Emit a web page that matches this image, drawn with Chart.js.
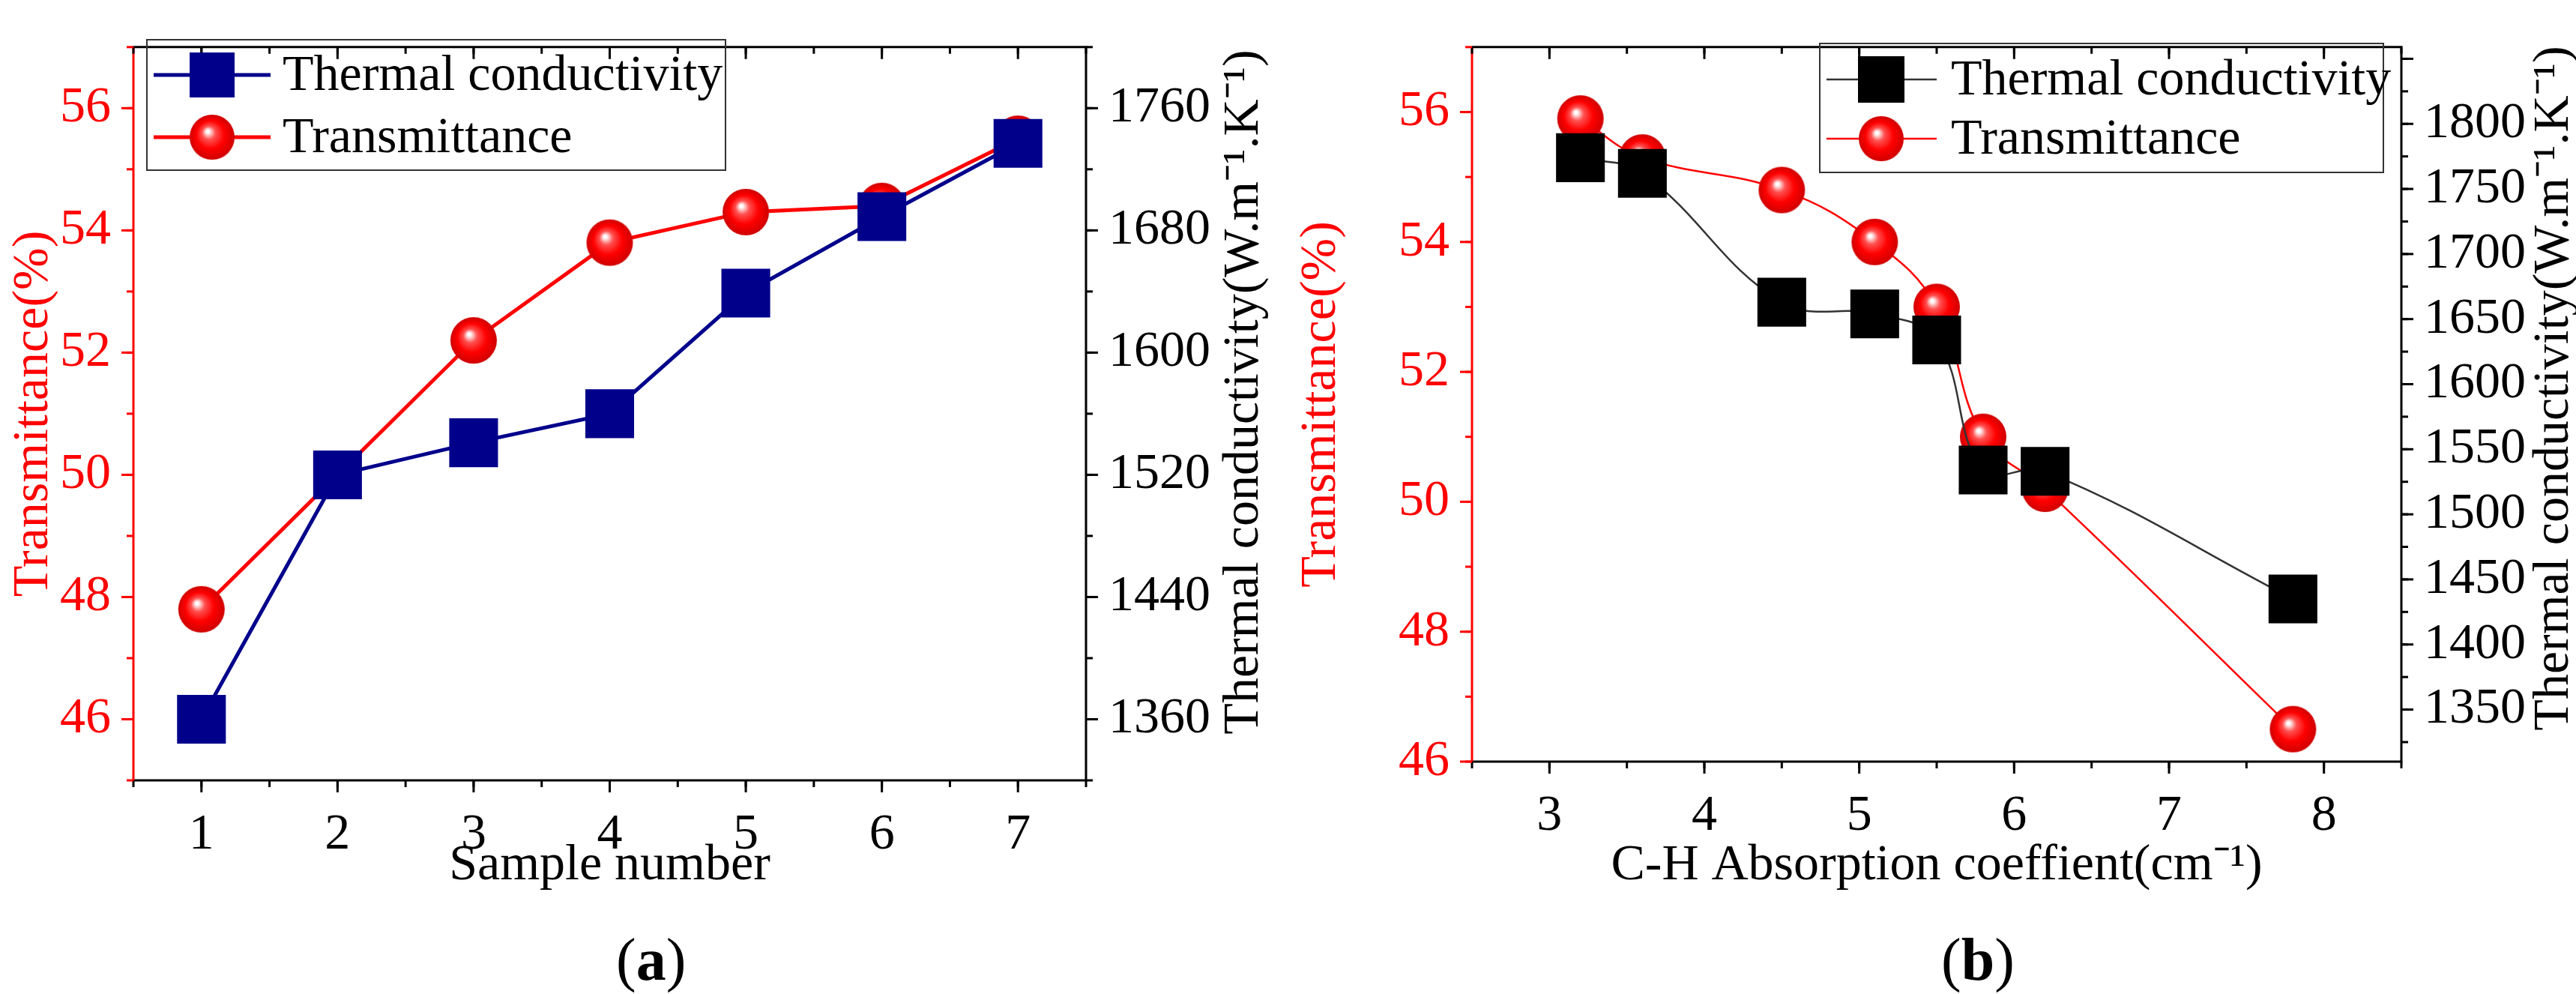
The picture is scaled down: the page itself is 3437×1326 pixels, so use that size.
<!DOCTYPE html>
<html><head><meta charset="utf-8">
<script src="https://cdn.jsdelivr.net/npm/chart.js@4.4.0/dist/chart.umd.min.js"></script>
<style>
body{margin:0;background:#fff;width:3437px;height:1326px;position:relative;overflow:hidden;font-family:"Liberation Serif",serif}
.w{position:absolute;top:0;height:1200px}
.lab{position:absolute;top:1235px;font-size:80px;font-family:"Liberation Serif",serif}
</style></head><body>
<div class="w" style="left:0;width:1720px"><canvas id="ca"></canvas></div>
<div class="w" style="left:1718px;width:1719px"><canvas id="cb"></canvas></div>
<div class="lab" style="left:822px">(<b>a</b>)</div>
<div class="lab" style="left:2590px">(<b>b</b>)</div>
<script>
// Panel (a)
const sampleNumbers = [1, 2, 3, 4, 5, 6, 7];
const transmittanceA = [47.8, 50.0, 52.2, 53.8, 54.3, 54.4, 55.5];
const conductivityA = [1360, 1520, 1541, 1560, 1639, 1689, 1737];
const xTicksA = [1, 2, 3, 4, 5, 6, 7];
const leftTicksA = [46, 48, 50, 52, 54, 56];
const rightTicksA = [1360, 1440, 1520, 1600, 1680, 1760];
// Panel (b)
const chAbsorption = [3.2, 3.6, 4.5, 5.1, 5.5, 5.8, 6.2, 7.8];
const transmittanceB = [55.9, 55.3, 54.8, 54.0, 53.0, 51.0, 50.2, 46.5];
const conductivityB = [1774, 1762, 1663, 1654, 1634, 1534, 1533, 1435];
const xTicksB = [3, 4, 5, 6, 7, 8];
const leftTicksB = [46, 48, 50, 52, 54, 56];
const rightTicksB = [1350, 1400, 1450, 1500, 1550, 1600, 1650, 1700, 1750, 1800];
const seriesNames = ['Thermal conductivity', 'Transmittance'];

Chart.defaults.font.family = '"Liberation Serif", serif';
Chart.defaults.animation = false;
const F = 68;

function pts(xs, ys){ return xs.map((x,i)=>({x:x,y:ys[i]})); }

function ballStyle(){
  const c = document.createElement('canvas'); c.width=64;c.height=64;
  const g=c.getContext('2d');
  const gr=g.createRadialGradient(26,24,2,32,32,31);
  gr.addColorStop(0,'#ffffff');gr.addColorStop(0.25,'#ff5050');gr.addColorStop(0.6,'#ff0000');gr.addColorStop(1,'#d00000');
  g.fillStyle=gr;g.beginPath();g.arc(32,32,31,0,Math.PI*2);g.fill();
  return c;
}
const ball = ballStyle();

const framePlugin = {
  id:'frame',
  afterDraw(chart, args, o){
    const {ctx, chartArea:a, scales} = chart;
    ctx.save();
    ctx.lineWidth = 3;
    ctx.strokeStyle = '#000';
    ctx.beginPath(); ctx.moveTo(a.left,a.top); ctx.lineTo(a.right,a.top); ctx.lineTo(a.right,a.bottom); ctx.lineTo(a.left,a.bottom); ctx.stroke();
    ctx.strokeStyle = 'red';
    ctx.beginPath(); ctx.moveTo(a.left,a.top); ctx.lineTo(a.left,a.bottom); ctx.stroke();
    const tk = (sc, step, len, col, side) => {
      ctx.strokeStyle = col;
      for (let v = Math.ceil(sc.min/step-1e-9)*step; v <= sc.max+1e-9; v += step) {
        const p = sc.getPixelForValue(v);
        ctx.beginPath();
        if (side==='b'){ ctx.moveTo(p,a.bottom); ctx.lineTo(p,a.bottom+len); ctx.moveTo(p,a.top); ctx.lineTo(p,a.top+len); }
        if (side==='l'){ ctx.moveTo(a.left,p); ctx.lineTo(a.left-len,p); }
        if (side==='r'){ ctx.moveTo(a.right,p); ctx.lineTo(a.right+len,p); }
        ctx.stroke();
      }
    };
    tk(scales.x, o.xs, 16, '#000', 'b');
    tk(scales.x, o.xs/2, 9, '#000', 'b');
    tk(scales.y, 2, 16, 'red', 'l');
    tk(scales.y, 1, 9, 'red', 'l');
    tk(scales.y1, o.rs, 16, '#000', 'r');
    tk(scales.y1, o.rs/2, 9, '#000', 'r');
    // right title, reading bottom-to-top
    ctx.save();
    ctx.translate(o.rtx, o.rty); ctx.rotate(-Math.PI/2);
    ctx.font = F+'px "Liberation Serif"'; ctx.fillStyle='#000'; ctx.textAlign='center'; ctx.textBaseline='middle';
    ctx.fillText('Thermal conductivity(W.m⁻¹.K⁻¹)', 0, 0);
    ctx.restore();
    // legend
    const L = o.leg;
    ctx.strokeStyle = '#333'; ctx.lineWidth = 2;
    ctx.strokeRect(L.x0, L.y0, L.x1-L.x0, L.y1-L.y0);
    ctx.font = F+'px "Liberation Serif"'; ctx.textBaseline='middle'; ctx.textAlign='left';
    L.rows.forEach((r,i)=>{
      ctx.strokeStyle = r.lc; ctx.lineWidth = r.lw;
      ctx.beginPath(); ctx.moveTo(L.lx0, r.y); ctx.lineTo(L.lx1, r.y); ctx.stroke();
      if (r.sq) { ctx.fillStyle = r.sq; ctx.fillRect(L.mx-r.s/2, r.y-r.s/2, r.s, r.s); }
      else { ctx.drawImage(ball, L.mx-r.s/2, r.y-r.s/2, r.s, r.s); }
      ctx.fillStyle='#000'; ctx.fillText(seriesNames[i], L.tx, r.y+2);
    });
    ctx.restore();
  }
};

function make(id, cfg){
  const axW = cfg.axW;
  return new Chart(document.getElementById(id), {
    type:'scatter',
    data:{datasets:[
      {data:pts(cfg.xs,cfg.tc), yAxisID:'y1', showLine:true, borderColor:cfg.tcLine, borderWidth:cfg.lw, tension:cfg.tension,
       pointStyle:'rect', pointRadius:46, pointBackgroundColor:cfg.tcFill, pointBorderWidth:0},
      {data:pts(cfg.xs,cfg.tr), yAxisID:'y', showLine:true, borderColor:'red', borderWidth:cfg.lw, tension:cfg.tension,
       pointStyle:ball, pointRadius:31}
    ]},
    options:{
      responsive:true, maintainAspectRatio:false,
      layout:{padding:{top:cfg.top, left:0, right:0, bottom:0}},
      plugins:{legend:{display:false}, tooltip:{enabled:false}, frame:cfg.frame},
      scales:{
        x:{type:'linear', min:cfg.xmin, max:cfg.xmax, grid:{display:false}, border:{display:false},
           afterBuildTicks(s){ s.ticks = cfg.xticks.map(v=>({value:v})); },
           ticks:{color:'#000', font:{size:F}, padding:24, callback:v=>String(v)},
           title:{display:true, text:cfg.xt, color:'#000', font:{size:F}, padding:{top:0}},
           afterFit(s){ s.height = cfg.xh; }},
        y:{position:'left', min:cfg.ymin, max:57, grid:{display:false}, border:{display:false},
           afterBuildTicks(s){ s.ticks = cfg.lticks.map(v=>({value:v})); },
           ticks:{color:'red', font:{size:F}, padding:22, callback:v=>String(v)},
           title:{display:true, text:'Transmittance(%)', color:'red', font:{size:F}, padding:{bottom:0}},
           afterFit(s){ s.width = axW[0]; }},
        y1:{position:'right', min:cfg.rmin, max:cfg.rmax, grid:{display:false}, border:{display:false},
           afterBuildTicks(s){ s.ticks = cfg.rticks.map(v=>({value:v})); },
           ticks:{color:'#000', font:{size:F}, padding:22, callback:v=>String(v)},
           afterFit(s){ s.width = axW[1]; }}
      }
    },
    plugins:[framePlugin]
  });
}

make('ca', {xs:sampleNumbers, tc:conductivityA, tr:transmittanceA, tcLine:'#00008b', tcFill:'#00008b', lw:5, tension:0,
  xmin:0.5, xmax:7.5, xticks:xTicksA, lticks:leftTicksA, xt:'Sample number', xh:159, top:19, axW:[178,271], ymin:45,
  rmin:1320, rmax:1800, rticks:rightTicksA,
  frame:{xs:1, rs:80, rtx:1660, rty:523, leg:{x0:196,y0:53,x1:968,y1:227,lx0:205,lx1:361,mx:283,tx:377,
    rows:[{y:100,lc:'#00008b',lw:5,sq:'#00008b',s:60},{y:183,lc:'red',lw:5,s:62}]}}});

make('cb', {xs:chAbsorption, tc:conductivityB, tr:transmittanceB, tcLine:'#333', tcFill:'#000', lw:2.5, tension:0.4,
  xmin:2.5, xmax:8.5, xticks:xTicksB, lticks:leftTicksB, xt:'C-H Absorption coeffient(cm⁻¹)', xh:184, top:21, axW:[246,233], ymin:46,
  rmin:1310, rmax:1859, rticks:rightTicksB,
  frame:{xs:1, rs:50, rtx:1690, rty:518, leg:{x0:710,y0:58,x1:1462,y1:230,lx0:719,lx1:866,mx:792,tx:885,
    rows:[{y:106,lc:'#333',lw:2.5,sq:'#000',s:62},{y:185,lc:'red',lw:2.5,s:62}]}}});
</script>
</body></html>
